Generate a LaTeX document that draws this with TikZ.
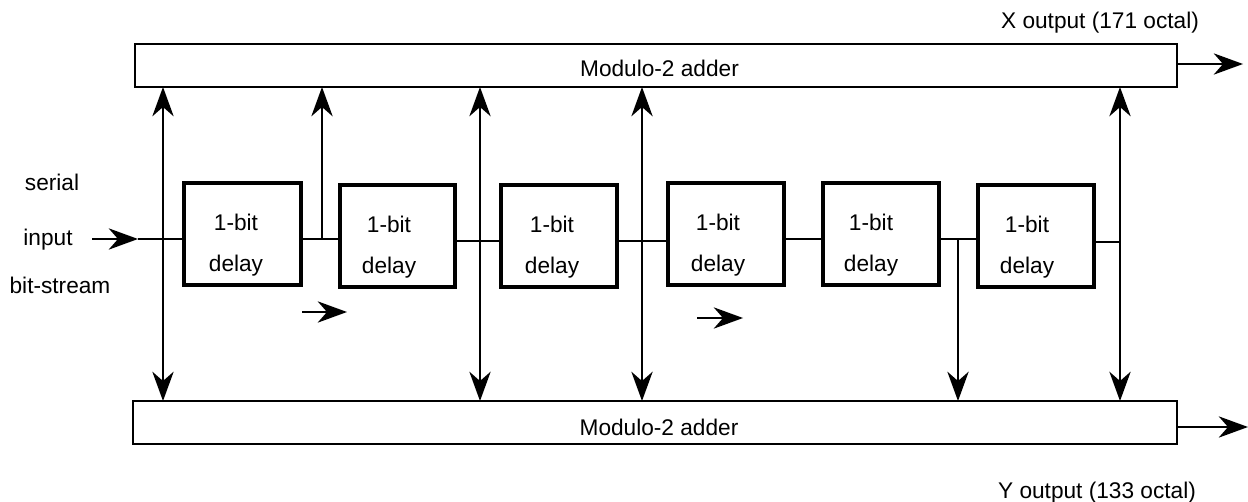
\documentclass[tikz,border=0pt]{standalone}
\usepackage{fontspec}
\setmainfont{Liberation Sans}
\usetikzlibrary{arrows.meta}
\tikzset{
  x=0.75pt,y=-0.75pt,
  adder/.style={draw,line width=1.7pt,inner sep=0pt},
  delaybox/.style={draw,line width=3.4pt,inner sep=0pt},
  wire/.style={draw,line width=1.4pt},
  tip/.style={-{Stealth[length=22pt,width=16pt,inset=7pt]}},
  bitip/.style={{Stealth[length=22pt,width=16pt,inset=7pt]}-{Stealth[length=22pt,width=16pt,inset=7pt]}},
  label/.style={font=\fontsize{17}{20}\selectfont,inner sep=0pt},
  delaytext/.style={font=\fontsize{17}{31}\selectfont,inner sep=0pt,align=center}
}
\newcommand{\boxat}[7]{\node[delaybox,minimum width=#3*0.75pt,minimum height=#4*0.75pt] (#1) at (#2) {};\node[delaytext] (#1t) at (#5,#6) {#7};}
\begin{document}
\begin{tikzpicture}
\useasboundingbox (0,0) rectangle (1248,502);
% adders
\node[adder,minimum width=1042*0.75pt,minimum height=43*0.75pt] (top) at (656,65.5) {};
\node[adder,minimum width=1044*0.75pt,minimum height=43*0.75pt] (bot) at (655,422.5) {};
\node[label] (topt) at (659.5,68) {Modulo-2 adder};
\node[label] (bott) at (659,427) {Modulo-2 adder};
% delays
\boxat{d1}{242.5,234}{117}{102}{236}{245}{1-bit\\delay}
\boxat{d2}{397.5,236}{115}{102}{389}{247}{1-bit\\delay}
\boxat{d3}{559,236}{116}{102}{552}{247}{1-bit\\delay}
\boxat{d4}{726,234}{116}{102}{718}{245}{1-bit\\delay}
\boxat{d5}{881,234}{116}{102}{871}{245}{1-bit\\delay}
\boxat{d6}{1036,236}{116}{102}{1027}{247}{1-bit\\delay}
% junctions
\coordinate (jb) at (322,239);
\coordinate (jc) at (480,241);
\coordinate (jd) at (642,241);
\coordinate (jg) at (800,239);
\coordinate (je) at (958,239);
\coordinate (jf) at (1120,242);
\coordinate (ta) at (163,87);\coordinate (ba) at (163,401);
\coordinate (tb) at (322,87);
\coordinate (tc) at (480,87);\coordinate (bc) at (480,401);
\coordinate (td) at (642,87);\coordinate (bd) at (642,401);
\coordinate (be) at (958,401);
\coordinate (tf) at (1120,87);\coordinate (bf) at (1120,401);
% wires
\coordinate (in0) at (92,239);\coordinate (in1) at (138,239);
\draw[wire,tip] (in0) -- (in1);
\draw[wire] (in1) -- (d1.west |- in1);
\draw[wire] (d1.east |- jb) -- (d2.west |- jb);
\draw[wire] (d2.east |- jc) -- (d3.west |- jc);
\draw[wire] (d3.east |- jd) -- (d4.west |- jd);
\draw[wire] (d4.east |- jg) -- (d5.west |- jg);
\draw[wire] (d5.east |- je) -- (d6.west |- je);
\draw[wire] (d6.east |- jf) -- (jf);
\draw[wire,bitip] (ba) -- (ta);
\draw[wire,tip] (jb) -- (tb);
\draw[wire,bitip] (bc) -- (tc);
\draw[wire,bitip] (bd) -- (td);
\draw[wire,tip] (je) -- (be);
\draw[wire,bitip] (bf) -- (tf);
% outputs
\coordinate (xo) at (1243,64);\coordinate (yo) at (1248,427);
\draw[wire,tip] (top.east |- xo) -- (xo);
\draw[wire,tip] (bot.east |- yo) -- (yo);
% flow arrows
\coordinate (f1a) at (302,312);\coordinate (f1b) at (347,312);
\coordinate (f2a) at (697,318);\coordinate (f2b) at (743,318);
\draw[wire,tip] (f1a) -- (f1b);
\draw[wire,tip] (f2a) -- (f2b);
% labels
\node[label] (ls) at (52,182) {serial};
\node[label] (li) at (48,240) {input};
\node[label] (lb) at (60,285) {bit-stream};
\node[label] (lx) at (1100,23) {X output (171 octal)};
\node[label] (ly) at (1097,493) {Y output (133 octal)};
\end{tikzpicture}
\end{document}
